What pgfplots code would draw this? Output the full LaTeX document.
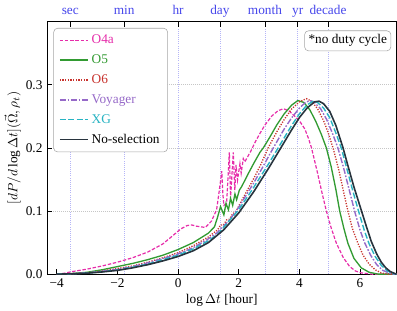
\documentclass[border=0pt]{standalone}
\usepackage{fontspec}
\setmainfont{Liberation Serif}
\usepackage{pgfplots}
\pgfplotsset{compat=1.18}
\definecolor{cOfour}{RGB}{230,45,170}
\definecolor{cOfive}{RGB}{50,155,50}
\definecolor{cOsix}{RGB}{200,50,45}
\definecolor{cVoy}{RGB}{150,105,200}
\definecolor{cXG}{RGB}{40,180,195}
\definecolor{cNo}{RGB}{40,52,62}
\definecolor{topblue}{RGB}{70,70,235}
\begin{document}
\begin{tikzpicture}
% top axis with time markers
\begin{axis}[
  scale only axis, width=262.5pt, height=189.75pt,
  xmin=-4.32, xmax=7.2, ymin=0, ymax=0.4,
  axis x line*=top, axis y line=none,
  xtick={-3.556,-1.778,0,1.380,2.863,3.943,4.943},
  xticklabels={sec,min,hr,day,month,yr,decade},
  xticklabel style={text=topblue, font=\fontsize{10}{12}\selectfont, text height=1.6ex, text depth=0.45ex},
  tick align=inside, major tick length=4pt,
  tick style={black, line width=0.6pt},
  xmajorgrids, major grid style={topblue!40, line width=0.6pt, densely dotted},
  axis line style={line width=0.9pt},
]
\addplot[draw=none] coordinates {(0,0)};
\end{axis}
% main axis
\begin{axis}[
  scale only axis, width=262.5pt, height=189.75pt,
  xmin=-4.32, xmax=7.2, ymin=0, ymax=0.4,
  xtick={-4,-2,0,2,4,6}, xticklabels={−4,−2,0,2,4,6},
  ytick={0,0.1,0.2,0.3}, yticklabels={0.0,0.1,0.2,0.3},
  xtick pos=bottom, ytick pos=left,
  tick align=inside, major tick length=4pt,
  tick style={black, line width=0.6pt},
  ticklabel style={font=\fontsize{10}{12}\selectfont},
  ymajorgrids, major grid style={gray!45, line width=0.5pt, densely dotted},
  axis line style={line width=0.9pt},
  xlabel={$\log\Delta t$ [hour]},
  ylabel={$[dP/d\log\Delta t](\vec{\Omega},\rho_t)$},
  label style={font=\fontsize{10}{12}\selectfont},
  xlabel style={yshift=2pt},
  ylabel style={yshift=-3pt},
  legend cell align=left,
  legend image code/.code={\draw[#1] (0cm,0cm) -- (0.75cm,0cm);},
  legend style={at={(0.018,0.975)}, anchor=north west, draw=gray!70,
    rounded corners=3pt, fill=white, font=\fontsize{10}{12}\selectfont,
    row sep=2.8pt, inner xsep=4pt, inner ysep=3pt},
]
% O4a
\addplot[cOfour, line width=0.9pt, dash pattern=on 2.6pt off 1.3pt] coordinates {
(-4.0,0.000) (-3.8,0.001) (-3.5,0.004) (-3.0,0.008) (-2.5,0.013) (-2.0,0.019)
(-1.5,0.026) (-1.0,0.035) (-0.5,0.048) (-0.1,0.064) (0.1,0.072) (0.3,0.077)
(0.45,0.078) (0.6,0.076) (0.9,0.074) (1.1,0.084) (1.27,0.102) (1.36,0.133)
(1.44,0.163) (1.48,0.125) (1.51,0.109) (1.6,0.112) (1.69,0.193) (1.73,0.120)
(1.82,0.193) (1.87,0.133) (1.91,0.173) (1.96,0.149) (2.04,0.175) (2.08,0.160)
(2.15,0.183) (2.2,0.178) (2.4,0.195) (2.55,0.210) (2.7,0.223) (2.86,0.236)
(3.1,0.251) (3.3,0.259) (3.47,0.262) (3.65,0.259) (3.85,0.250) (4.0,0.243)
(4.18,0.230) (4.3,0.215) (4.4,0.200) (4.6,0.160) (4.75,0.128) (4.89,0.100)
(5.05,0.073) (5.22,0.049) (5.45,0.026) (5.66,0.012) (5.85,0.005) (6.04,0.002)
(6.4,0.000) (7.2,0.000)};
\addlegendentry{\textcolor{cOfour}{O4a}}
% O5
\addplot[cOfive, line width=1.0pt] coordinates {
(-4.0,0.000) (-3.5,0.001) (-3.0,0.003) (-2.5,0.007) (-2.0,0.012) (-1.5,0.017)
(-1.0,0.023) (-0.5,0.030) (0.0,0.039) (0.5,0.050) (1.0,0.065) (1.2,0.075)
(1.3,0.090) (1.40,0.107) (1.51,0.094) (1.58,0.112) (1.66,0.102) (1.73,0.120)
(1.80,0.109) (1.875,0.127) (1.93,0.118) (2.02,0.133) (2.1,0.139) (2.3,0.158)
(2.5,0.176) (2.7,0.193) (2.81,0.200) (3.0,0.215) (3.25,0.236) (3.5,0.254)
(3.75,0.268) (3.95,0.275) (4.15,0.272) (4.35,0.260) (4.55,0.241) (4.72,0.222)
(4.89,0.200) (5.05,0.170) (5.2,0.135) (5.33,0.100) (5.47,0.072) (5.6,0.049)
(5.8,0.025) (6.04,0.010) (6.3,0.003) (6.6,0.000) (7.2,0.000)};
\addlegendentry{\textcolor{cOfive}{O5}}
% O6
\addplot[cOsix, line width=1.0pt, dash pattern=on 0.9pt off 1.1pt] coordinates {
(-4.0,0.000) (-3.5,0.0008) (-3.0,0.0022) (-2.5,0.005) (-2.0,0.009) (-1.5,0.013)
(-1.0,0.019) (-0.5,0.026) (0.0,0.034) (0.5,0.045) (1.0,0.059) (1.3,0.070)
(1.4,0.078) (1.5,0.078) (1.6,0.086) (1.7,0.087) (1.8,0.096) (1.9,0.098)
(2.0,0.108) (2.5,0.152) (2.75,0.176) (2.97,0.200) (3.25,0.225) (3.5,0.245)
(3.75,0.262) (4.0,0.273) (4.23,0.278) (4.4,0.274) (4.6,0.262) (4.8,0.243)
(4.95,0.224) (5.11,0.200) (5.3,0.165) (5.45,0.132) (5.6,0.100) (5.75,0.072)
(5.93,0.049) (6.1,0.030) (6.3,0.016) (6.5,0.007) (6.7,0.002) (6.9,0.000) (7.2,0.000)};
\addlegendentry{\textcolor{cOsix}{O6}}
% Voyager
\addplot[cVoy, line width=1.05pt, dash pattern=on 4.5pt off 1.3pt on 1.2pt off 1.3pt] coordinates {
(-4.0,0.000) (-3.5,0.0007) (-3.0,0.002) (-2.5,0.0045) (-2.0,0.0075) (-1.5,0.012)
(-1.0,0.018) (-0.5,0.025) (0.0,0.032) (0.5,0.042) (1.0,0.056) (1.3,0.066)
(1.4,0.072) (1.5,0.076) (1.7,0.086) (2.0,0.106) (2.5,0.145) (2.75,0.166)
(3.0,0.188) (3.14,0.200) (3.5,0.230) (3.75,0.248) (4.0,0.263) (4.2,0.272)
(4.34,0.275) (4.5,0.272) (4.7,0.262) (4.9,0.245) (5.1,0.222) (5.27,0.200)
(5.45,0.170) (5.62,0.138) (5.82,0.100) (6.0,0.070) (6.15,0.050) (6.35,0.030)
(6.55,0.015) (6.75,0.006) (6.95,0.002) (7.1,0.000) (7.2,0.000)};
\addlegendentry{\textcolor{cVoy}{Voyager}}
% XG
\addplot[cXG, line width=1.05pt, dash pattern=on 4.5pt off 1.8pt] coordinates {
(-4.0,0.000) (-3.5,0.0006) (-3.0,0.0018) (-2.5,0.004) (-2.0,0.0068) (-1.5,0.011)
(-1.0,0.016) (-0.5,0.023) (0.0,0.030) (0.5,0.040) (1.0,0.053) (1.3,0.063)
(1.4,0.068) (1.5,0.074) (2.0,0.102) (2.5,0.138) (2.75,0.157) (3.0,0.176)
(3.25,0.196) (3.5,0.216) (3.75,0.236) (4.0,0.254) (4.25,0.268) (4.45,0.274)
(4.6,0.272) (4.8,0.263) (5.0,0.248) (5.2,0.224) (5.38,0.200) (5.55,0.170)
(5.75,0.134) (5.95,0.100) (6.15,0.068) (6.3,0.048) (6.5,0.028) (6.7,0.014)
(6.9,0.005) (7.1,0.001) (7.2,0.000)};
\addlegendentry{\textcolor{cXG}{XG}}
% No-selection
\addplot[cNo, line width=1.2pt] coordinates {
(-4.0,0.000) (-3.5,0.0005) (-3.0,0.0015) (-2.5,0.0035) (-2.0,0.006) (-1.5,0.010)
(-1.0,0.015) (-0.5,0.021) (0.0,0.028) (0.5,0.037) (1.0,0.050) (1.5,0.070)
(2.0,0.097) (2.5,0.131) (2.75,0.150) (3.0,0.169) (3.25,0.189) (3.5,0.209)
(3.75,0.229) (4.0,0.248) (4.25,0.263) (4.5,0.273) (4.65,0.274) (4.8,0.270)
(5.0,0.258) (5.2,0.236) (5.44,0.200) (5.6,0.172) (5.8,0.138) (6.05,0.100)
(6.2,0.077) (6.37,0.052) (6.55,0.032) (6.7,0.019) (6.85,0.010) (7.0,0.004)
(7.15,0.001) (7.2,0.000)};
\addlegendentry{No-selection}
\node[draw=gray!70, rounded corners=3pt, fill=white, anchor=north east,
  font=\fontsize{10}{12}\selectfont, inner sep=3pt]
  at (rel axis cs:0.985,0.965) {*no duty cycle};
\end{axis}
\end{tikzpicture}
\end{document}
